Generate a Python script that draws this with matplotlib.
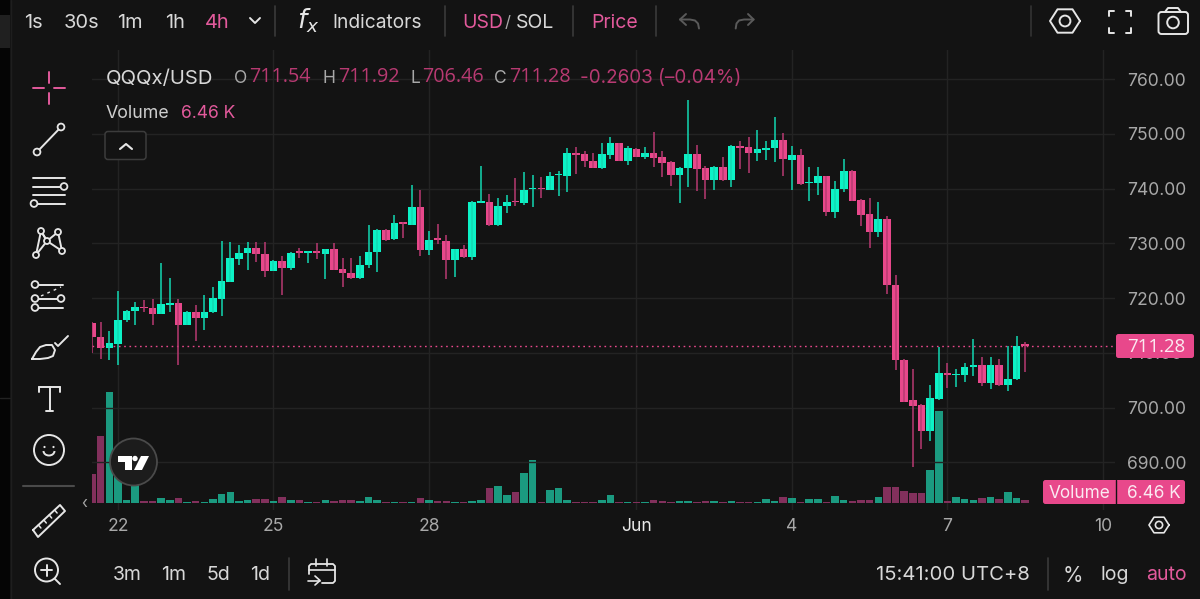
import numpy as np
import matplotlib
matplotlib.use('Agg')
import matplotlib.pyplot as plt
from matplotlib.patches import Circle, FancyBboxPatch, Polygon, Rectangle, Arc

# 4h свечи, значения
opens = [715.5, 712.8, 710.9, 711.7, 716.0, 717.6, 718.4, 718.1, 717.1, 718.8,
         719.1, 715.0, 717.4, 716.3, 717.4, 719.9, 723.0, 727.2, 728.2, 729.1,
         728.1, 725.0, 726.7, 725.5, 728.6, 728.3, 728.6, 728.0, 728.9, 725.3,
         724.6, 723.6, 726.0, 728.4, 732.5, 730.7, 733.8, 733.4, 736.7, 728.7,
         730.9, 730.5, 726.9, 728.9, 727.5, 737.4, 737.6, 733.3, 736.8, 737.8,
         737.3, 739.9, 740.1, 739.8, 742.4, 742.2, 746.5, 746.3, 745.1, 743.7,
         746.1, 748.3, 745.1, 747.3, 745.7, 746.5, 745.8, 744.9, 742.5, 743.7,
         746.3, 743.7, 741.5, 744.0, 741.5, 747.8, 747.6, 746.4, 747.1, 747.4,
         748.9, 745.3, 746.1, 741.0, 741.0, 742.2, 735.7, 739.9, 743.2, 737.9,
         735.4, 732.0, 734.5, 722.4, 708.7, 701.3, 700.5, 695.7, 701.5, 706.4,
         706.0, 706.0, 707.5, 707.8, 704.4, 707.8, 704.2, 705.2, 711.54]
highs = [715.6, 715.7, 713.9, 721.2, 717.9, 719.3, 719.6, 719.8, 726.4, 723.6,
         719.9, 717.7, 718.7, 720.5, 722.1, 730.5, 730.2, 729.7, 730.2, 730.2,
         730.2, 727.0, 727.7, 728.4, 729.1, 728.6, 730.1, 728.9, 730.0, 727.3,
         727.4, 727.7, 733.4, 732.7, 732.6, 735.1, 733.8, 740.6, 739.8, 732.2,
         733.6, 731.5, 729.0, 729.6, 737.8, 744.1, 739.0, 738.2, 738.9, 742.0,
         743.1, 742.4, 742.1, 743.0, 743.2, 747.4, 747.6, 746.9, 746.5, 748.3,
         749.5, 748.4, 747.7, 747.4, 747.6, 750.3, 746.9, 745.1, 743.9, 756.1,
         747.9, 744.1, 744.1, 745.7, 747.9, 748.7, 749.4, 750.6, 748.6, 753.1,
         750.2, 747.7, 747.3, 744.0, 743.9, 742.3, 741.4, 745.4, 743.3, 738.0,
         738.2, 737.6, 734.9, 724.2, 708.8, 707.1, 700.6, 704.2, 711.0, 708.1,
         707.0, 708.2, 712.5, 709.3, 709.2, 708.8, 711.2, 713.1, 711.92]
lows = [709.9, 708.9, 708.7, 707.8, 715.6, 715.0, 717.4, 715.1, 717.0, 717.5,
        707.7, 715.0, 712.2, 714.2, 717.3, 716.7, 723.0, 726.0, 725.1, 726.6,
        723.9, 724.9, 720.5, 725.1, 727.3, 726.4, 727.1, 723.4, 725.1, 722.1,
        723.5, 723.5, 725.5, 724.8, 730.5, 730.6, 730.9, 733.3, 727.7, 727.9,
        729.9, 723.5, 723.9, 727.4, 726.9, 737.3, 733.2, 733.2, 735.6, 736.8,
        737.0, 736.7, 738.3, 739.7, 738.6, 739.3, 742.7, 744.0, 743.7, 743.6,
        745.4, 745.0, 744.3, 745.7, 745.4, 744.0, 742.1, 740.4, 737.4, 740.2,
        739.5, 738.1, 739.8, 741.4, 740.2, 743.6, 742.9, 745.1, 745.3, 744.9,
        742.2, 739.7, 740.7, 737.7, 738.8, 734.9, 734.7, 739.3, 737.7, 733.1,
        729.1, 731.2, 720.7, 706.8, 701.0, 689.2, 692.5, 693.9, 701.4, 703.5,
        703.7, 704.7, 705.7, 703.9, 703.4, 704.0, 703.1, 705.1, 706.46]
closes = [712.8, 710.9, 711.8, 716.0, 717.7, 718.3, 718.2, 717.1, 718.9, 719.1,
          715.0, 717.4, 716.3, 717.4, 720.0, 723.1, 727.3, 728.3, 729.1, 728.0,
          725.0, 726.7, 725.5, 728.3, 728.3, 728.6, 728.3, 728.9, 725.2, 724.5,
          723.6, 726.1, 728.5, 732.5, 730.6, 733.7, 733.5, 736.7, 728.7, 730.6,
          730.6, 726.9, 728.9, 727.5, 737.6, 737.7, 733.3, 736.9, 737.6, 737.5,
          739.8, 740.1, 739.9, 742.3, 742.7, 746.5, 746.2, 745.0, 743.8, 746.3,
          748.3, 745.1, 747.4, 745.8, 746.5, 745.6, 744.7, 742.5, 743.8, 746.3,
          743.6, 741.5, 744.0, 741.5, 747.8, 747.4, 746.4, 747.2, 747.4, 748.9,
          745.4, 746.1, 740.8, 741.2, 742.2, 735.7, 740.0, 743.2, 737.8, 735.2,
          732.0, 734.5, 722.3, 708.6, 701.1, 700.3, 695.7, 701.7, 706.4, 706.0,
          706.2, 707.5, 707.8, 704.4, 707.8, 704.2, 705.3, 711.3, 711.28]
# объём в тысячах
volumes = [56.2, 130.5, 215.8, 54.9, 5.8, 35.5, 4.5, 4.5, 9.7, 7.1,
           9.7, 2.6, 4.5, 2.6, 8.4, 18.1, 21.3, 4.5, 5.8, 7.8,
           7.8, 4.5, 12.9, 7.1, 5.8, 2.6, 2.6, 5.8, 3.9, 5.8,
           5.8, 4.5, 12.9, 5.8, 2.6, 2.6, 2.6, 2.6, 9.7, 7.1,
           4.5, 4.5, 2.6, 2.6, 4.5, 5.8, 29.7, 33.6, 15.5, 22.6,
           58.8, 84.0, 2.6, 25.2, 29.1, 5.8, 2.6, 2.6, 2.6, 7.1,
           15.5, 2.6, 2.6, 2.6, 2.6, 7.1, 3.9, 2.6, 4.5, 4.5,
           2.6, 4.5, 3.9, 2.6, 3.9, 2.6, 2.6, 3.2, 8.4, 4.5,
           11.6, 9.7, 2.6, 8.4, 8.4, 2.6, 14.2, 7.1, 4.5, 5.8,
           7.1, 11.6, 32.3, 31.0, 23.9, 20.0, 20.0, 64.6, 178.9, 4.5,
           12.9, 8.4, 7.1, 9.7, 11.6, 8.4, 21.3, 9.7, 6.46]

day_ticks = [3, 21, 39, 63, 81, 99, 117]
day_labels = ['22', '25', '28', 'Jun', '4', '7', '10']
price_ticks = [690, 700, 710, 720, 730, 740, 750, 760]
last_close = 711.28

BG = '#131313'
GRID = '#232323'
GREEN = '#0cf2c6'
PINK = '#e8488b'
GREEN_WICK = '#12d8b2'
PINK_WICK = '#b83a72'
GREEN_VOL = '#1b9a80'
PINK_VOL = '#82305c'
TEXT = '#d8d8d8'
MUTED = '#a8a8a8'
DIM = '#5a5a5a'
ICON = '#e6e6e6'
PINK_TEXT = '#e35a9c'

plt.rcParams['font.family'] = ['Inter', 'DejaVu Sans']

W, H = 1200, 599
fig = plt.figure(figsize=(W / 100, H / 100), dpi=100, facecolor=BG)
rect = [92 / W, 1 - 510 / H, (1115 - 92) / W, (510 - 50) / H]

# объём снизу, свечи поверх
ax_vol = fig.add_axes(rect, zorder=1, facecolor=BG)
ax = fig.add_axes(rect, zorder=2, facecolor='none')

o = np.array(opens)
h = np.array(highs)
l = np.array(lows)
c = np.array(closes)
x = np.arange(len(o))
up = c >= o

ax_vol.bar(x, volumes, width=0.87, color=[GREEN_VOL if u else PINK_VOL for u in up])
ax_vol.set_ylim(-13, 878.5)
ax_vol.set_yticks([])
ax_vol.set_xticks(day_ticks)
ax_vol.set_xticklabels([])
ax_vol.tick_params(length=0)
ax_vol.grid(axis='x', color=GRID, linewidth=1)
ax_vol.set_axisbelow(True)

ax.vlines(x, l, h, colors=[GREEN_WICK if u else PINK_WICK for u in up], linewidth=1.1)
ax.bar(x, np.abs(c - o), bottom=np.minimum(o, c), width=0.88,
       color=[GREEN if u else PINK for u in up])
ax.axhline(last_close, color=PINK, linewidth=1, linestyle=(0, (1.2, 2.6)), zorder=1)

ax.set_xlim(-0.006, 118.4)
ax.set_ylim(681.3, 765.3)
ax_vol.set_xlim(ax.get_xlim())
ax.set_yticks(price_ticks)
ax.set_yticklabels(['%.2f' % p for p in price_ticks])
ax.yaxis.tick_right()
ax.tick_params(axis='y', length=0, pad=8.5, labelsize=12.6, labelcolor=MUTED)
ax.set_xticks(day_ticks)
ax.set_xticklabels(day_labels)
ax.tick_params(axis='x', length=0, pad=6, labelsize=12.6, labelcolor=MUTED)
ax.get_xticklabels()[3].set_color('#e8e8e8')
ax.grid(axis='y', color=GRID, linewidth=1)
ax.set_axisbelow(True)
for a in (ax, ax_vol):
    for s in a.spines.values():
        s.set_visible(False)

# всё оформление интерфейса рисуем в пикселях поверх графика
ov = fig.add_axes([0, 0, 1, 1], zorder=5, facecolor='none')
ov.set_xlim(0, W)
ov.set_ylim(H, 0)
ov.axis('off')


def label(px, py, s, color=TEXT, size=14, ha='left', **kw):
    # va='center' учитывает нижние выносные, поэтому чуть ниже
    ov.text(px, py + 1.5, s, color=color, fontsize=size, ha=ha, va='center', **kw)


def line(xs, ys, color=ICON, lw=1.4, **kw):
    ov.plot(xs, ys, color=color, linewidth=lw, solid_capstyle='round', **kw)


def ring(px, py, r=3.4, color=ICON, lw=1.3):
    ov.add_patch(Circle((px, py), r, facecolor=BG, edgecolor=color, linewidth=lw, zorder=4))


def sep(px, y0=6, y1=36, color='#3a3a3a'):
    line([px, px], [y0, y1], color=color, lw=1.2)


def hexagon(px, py, r=15, color=ICON, lw=1.4):
    a = np.radians([0, 60, 120, 180, 240, 300, 360])
    line(px + r * np.cos(a), py + r * 0.9 * np.sin(a), color=color, lw=lw)
    ov.add_patch(Circle((px, py), r * 0.36, facecolor='none', edgecolor=color, linewidth=lw))


# левая чёрная полоса
ov.add_patch(Rectangle((0, 0), 10, H, facecolor='#050505', edgecolor='none'))
ov.add_patch(Rectangle((0, 15), 10, 33, facecolor='#202020', edgecolor='none'))
line([0, 10], [398, 398], color='#222222', lw=1)
line([10.5, 10.5], [0, H], color='#1e1e1e', lw=1)

# верхняя панель
for px, s, col in [(24, '1s', TEXT), (64, '30s', TEXT), (117, '1m', TEXT),
                   (165, '1h', TEXT), (205, '4h', PINK_TEXT)]:
    label(px, 21, s, color=col, size=14.4)
line([250, 255, 260], [18, 23, 18])
sep(275)
label(297, 19, '$f_x$', size=19, color=ICON)
label(332, 21, 'Indicators', size=13.8)
sep(445)
label(462, 21, 'USD', color=PINK_TEXT, size=14)
label(505, 21, '/', color=MUTED, size=12)
label(516, 21, 'SOL', size=14)
sep(573)
label(591, 21, 'Price', color=PINK_TEXT, size=14)
sep(656)
# стрелки отмены и повтора
line([686, 680, 686], [14, 19.5, 25], color=DIM)
line([680, 690, 695, 698, 699], [19.5, 19.5, 20.5, 23.5, 28.5], color=DIM)
line([748, 753.6, 748], [14, 19.5, 25], color=DIM)
line([753.6, 744, 739, 736.5, 735.7], [19.5, 19.5, 20.5, 23.5, 28.5], color=DIM)
sep(1031, color='#333333')
hexagon(1065, 21)
for sx, sy in [(-1, -1), (1, -1), (-1, 1), (1, 1)]:
    cx, cy = 1119.5 + sx * 11, 21.5 + sy * 11
    line([cx - sx * 5, cx, cx], [cy, cy, cy - sy * 5])
ov.add_patch(FancyBboxPatch((1158.5, 12), 29.5, 22, boxstyle='round,pad=0,rounding_size=3',
                            facecolor='none', edgecolor=ICON, linewidth=1.4))
line([1165, 1168, 1178, 1181], [12, 8, 8, 12])
ov.add_patch(Circle((1173, 22.5), 5.8, facecolor='none', edgecolor=ICON, linewidth=1.4))

# легенда
label(106, 77, 'QQQx/USD', size=14.6)
muted_pink = '#b83a72'
for px, s in [(234, 'O'), (323, 'H'), (410, 'L'), (494, 'C')]:
    label(px, 77, s, color=MUTED, size=12.6)
# у Open Sans цифры одной ширины, как в оригинале
for px, s in [(249, '711.54'), (338, '711.92'), (422, '706.46'), (509, '711.28')]:
    label(px, 76, s, color=muted_pink, size=14.2, family='Open Sans')
label(580, 77, '-0.2603 (–0.04%)', color=muted_pink, size=13.6)
label(106, 112, 'Volume', size=12.8, color='#cfcfcf')
label(181, 112, '6.46 K', size=12.6, color=PINK_TEXT)
ov.add_patch(FancyBboxPatch((105, 131.5), 41, 28, boxstyle='round,pad=0,rounding_size=3',
                            facecolor=BG, edgecolor='#3c3c3c', linewidth=1.1))
line([120, 126, 132], [149, 144, 149], lw=1.5)

# подписи на правой шкале
ov.add_patch(FancyBboxPatch((1116, 334), 78, 24, boxstyle='round,pad=0,rounding_size=2.5',
                            facecolor=PINK, edgecolor='none'))
label(1127, 345.5, '%.2f' % last_close, color='#fbe9f1', size=13.4, family='Open Sans')
ov.add_patch(FancyBboxPatch((1043, 480), 142, 24, boxstyle='round,pad=0,rounding_size=2.5',
                            facecolor=PINK, edgecolor='none'))
line([1115.5, 1115.5], [480, 504], color='#131313', lw=1)
label(1049, 491.5, 'Volume', color='#fbe9f1', size=12.4)
label(1127, 491.5, '6.46 K', color='#fbe9f1', size=12.4)
hexagon(1159, 525, r=10, lw=1.2)

# логотип
ov.add_patch(Circle((133.5, 462), 23.5, facecolor='#1c1c1c', edgecolor='#4a4a4a', linewidth=1.3))
ov.add_patch(Polygon([(118, 456), (132, 456), (132, 470), (125, 470), (125, 462), (118, 462)],
                     facecolor='white', edgecolor='none'))
ov.add_patch(Circle((135, 458.5), 2.7, facecolor='white', edgecolor='none'))
ov.add_patch(Polygon([(141, 456), (149, 456), (142, 470), (134, 470)],
                     facecolor='white', edgecolor='none'))
label(81, 502, '‹', color=MUTED, size=11)

# панель инструментов слева
line([33, 44], [88, 88], color=PINK_TEXT)
line([54, 65], [88, 88], color=PINK_TEXT)
line([49, 49], [72, 83], color=PINK_TEXT)
line([49, 49], [93, 104], color=PINK_TEXT)

line([37, 61], [152, 127])
ring(37, 152)
ring(61, 127)

line([33, 65], [177.5, 177.5])
line([33, 62], [186.5, 186.5])
line([33, 65], [195, 195])
line([37, 65], [203.5, 203.5])
ring(64, 186.5)
ring(34, 203.5)

pts = [(36, 255), (41, 231), (47, 241), (58, 232), (62, 251)]
line([p[0] for p in pts], [p[1] for p in pts])
line([36, 47, 62], [255, 241, 251])
line([41, 47], [231, 241])
for p in pts:
    ring(p[0], p[1], r=3)

line([35, 63], [284.5, 284.5])
line([35, 63], [298.5, 298.5])
line([35, 63], [307.5, 307.5])
line([41, 61], [296, 287], lw=1, linestyle=(0, (2, 3)))
ring(35, 284.5)
ring(35, 298.5)
ring(61, 298.5)
ring(35, 307.5)

line([32, 36, 40, 46, 52, 55, 53, 48, 40, 32],
     [359, 352, 347, 345, 345, 350, 356, 358, 359, 359])
line([55, 58, 68], [343, 346, 336])

line([39, 60], [387, 387])
line([39, 39], [387, 392])
line([60, 60], [387, 392])
line([49.5, 49.5], [387, 411])
line([46, 53], [411, 411])

ov.add_patch(Circle((49, 450), 15, facecolor='none', edgecolor=ICON, linewidth=1.4))
ov.add_patch(Circle((44.5, 447), 1.1, facecolor=ICON, edgecolor='none'))
ov.add_patch(Circle((53.5, 447), 1.1, facecolor=ICON, edgecolor='none'))
ov.add_patch(Arc((49, 451), 11, 9, theta1=0, theta2=180, edgecolor=ICON, linewidth=1.4))

line([23, 74], [486, 486], color='#4a4a4a', lw=1.5)

rx = [33, 60, 65, 38, 33]
ry = [530, 505, 511, 537, 530]
line(rx, ry)
for t in [0.2, 0.4, 0.6, 0.8]:
    tx, ty = 33 + 27 * t, 530 - 25 * t
    line([tx, tx + 2.5], [ty, ty + 3], lw=1.1)

ov.add_patch(Circle((46.5, 570), 11.5, facecolor='none', edgecolor=ICON, linewidth=1.4))
line([55, 60], [579, 584])
line([41, 52], [570, 570])
line([46.5, 46.5], [564.5, 575.5])

# нижняя панель
for px, s in [(113, '3m'), (161, '1m'), (207, '5d'), (250, '1d')]:
    label(px, 574, s, size=14)
sep(289, 558, 590)
line([309, 309, 311, 333, 335, 335, 333, 322],
     [574, 566, 564, 564, 566, 581, 583, 583], lw=1.3)
line([309, 335], [570, 570], lw=1.2)
line([316, 316], [559, 566], lw=1.2)
line([327, 327], [559, 566], lw=1.2)
line([308, 320], [580.5, 580.5], lw=1.2)
line([315, 320, 315], [576, 580.5, 585], lw=1.2)
label(876, 574, '15:41:00 UTC+8', size=14.6)
sep(1048, 558, 590)
label(1063, 574, '%', size=15)
label(1100, 574, 'log', size=14)
label(1146, 574, 'auto', color=PINK_TEXT, size=14)

fig.savefig('out.png', dpi=100, facecolor=BG)
